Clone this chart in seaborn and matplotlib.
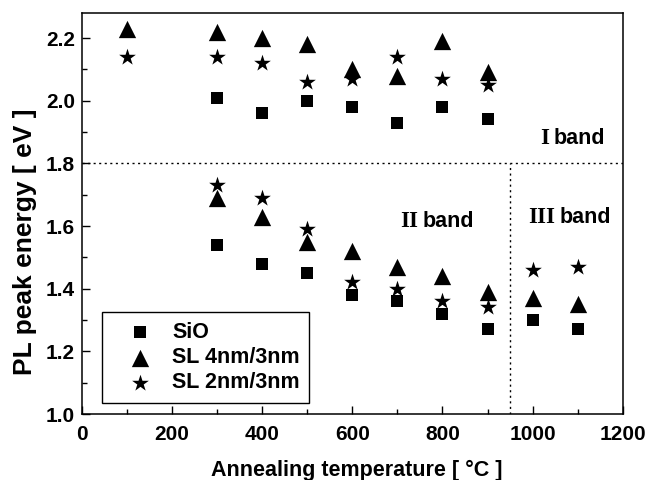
import matplotlib
matplotlib.use("Agg")
import matplotlib.pyplot as plt
import seaborn as sns
import pandas as pd
from matplotlib.ticker import MultipleLocator, FormatStrFormatter

# ---- data ----
sio_temp = [300, 400, 500, 600, 700, 800, 900,
            300, 400, 500, 600, 700, 800, 900, 1000, 1100]
sio_energy = [2.01, 1.96, 2.00, 1.98, 1.93, 1.98, 1.94,
              1.54, 1.48, 1.45, 1.38, 1.36, 1.32, 1.27, 1.30, 1.27]

sl43_temp = [100, 300, 400, 500, 600, 700, 800, 900,
             300, 400, 500, 600, 700, 800, 900, 1000, 1100]
sl43_energy = [2.23, 2.22, 2.20, 2.18, 2.10, 2.08, 2.19, 2.09,
               1.69, 1.63, 1.55, 1.52, 1.47, 1.44, 1.39, 1.37, 1.35]

sl23_temp = [100, 300, 400, 500, 600, 700, 800, 900,
             300, 400, 500, 600, 700, 800, 900, 1000, 1100]
sl23_energy = [2.14, 2.14, 2.12, 2.06, 2.07, 2.14, 2.07, 2.05,
               1.73, 1.69, 1.59, 1.42, 1.40, 1.36, 1.34, 1.46, 1.47]

series_names = ["SiO", "SL 4nm/3nm", "SL 2nm/3nm"]
band_numerals = ["I", "II", "III"]
band_x = [1036, 745, 1050]
band_y = [1.861, 1.598, 1.610]
band_boundary_y = 1.8
band_boundary_x = 950

df = pd.concat([
    pd.DataFrame({"temp": sio_temp, "energy": sio_energy, "sample": series_names[0]}),
    pd.DataFrame({"temp": sl43_temp, "energy": sl43_energy, "sample": series_names[1]}),
    pd.DataFrame({"temp": sl23_temp, "energy": sl23_energy, "sample": series_names[2]}),
], ignore_index=True)

sns.set_style("ticks")
plt.rcParams["font.family"] = ["Liberation Sans", "DejaVu Sans"]
plt.rcParams["font.weight"] = "bold"
for key in ["text.color", "axes.labelcolor", "xtick.color", "ytick.color",
            "axes.edgecolor"]:
    plt.rcParams[key] = "black"

fig = plt.figure(figsize=(6.48, 4.8), dpi=100)
ax = fig.add_axes([0.1265, 0.1375, 0.8345, 0.8355])

markers = {"SiO": "s", "SL 4nm/3nm": "^", "SL 2nm/3nm": "*"}
sizes = {"SiO": 85, "SL 4nm/3nm": 155, "SL 2nm/3nm": 160}
for name in series_names:
    sns.scatterplot(data=df[df["sample"] == name], x="temp", y="energy",
                    marker=markers[name], s=sizes[name], color="black",
                    edgecolor="black", linewidth=0, label=name, ax=ax, zorder=3)

ax.set_xlim(0, 1200)
ax.set_ylim(1.0, 2.28)
ax.xaxis.set_major_locator(MultipleLocator(200))
ax.xaxis.set_minor_locator(MultipleLocator(100))
ax.yaxis.set_major_locator(MultipleLocator(0.2))
ax.yaxis.set_minor_locator(MultipleLocator(0.1))
ax.yaxis.set_major_formatter(FormatStrFormatter("%.1f"))
ax.tick_params(which="major", direction="in", length=6, width=1, labelsize=15,
               color="black", labelcolor="black")
ax.tick_params(axis="x", which="major", pad=8)
ax.tick_params(axis="y", which="major", pad=5)
ax.tick_params(which="minor", direction="in", length=3.5, width=1, color="black")
for lab in ax.get_xticklabels() + ax.get_yticklabels():
    lab.set_fontweight("bold")
for sp in ax.spines.values():
    sp.set_visible(True)
    sp.set_linewidth(1.1)
    sp.set_color("black")

ax.set_xlabel("Annealing temperature [ \u00b0C ]", fontsize=15.5, fontweight="bold",
              color="black")
ax.set_ylabel("PL peak energy [ eV ]", fontsize=19, fontweight="bold", color="black")
ax.xaxis.set_label_coords(0.508, -0.115)
ax.yaxis.set_label_coords(-0.105, 0.43)
ax.yaxis.label.set_va("center")

ax.axhline(band_boundary_y, color="black", linestyle=(0, (1.5, 2.5)), linewidth=1)
ax.plot([band_boundary_x, band_boundary_x], [1.0, band_boundary_y], color="black",
        linestyle=(0, (1.5, 2.5)), linewidth=1)

for num, bx, by in zip(band_numerals, band_x, band_y):
    ax.text(bx, by, num, ha="right", va="baseline", fontsize=16.5, color="black",
            family=["Liberation Serif", "DejaVu Serif"], fontweight="bold")
    ax.annotate("band", xy=(bx, by), xytext=(3.5, 0), textcoords="offset points",
                ha="left", va="baseline", fontsize=15.5, fontweight="bold",
                color="black")

leg = ax.legend(loc="lower left", bbox_to_anchor=(0.037, 0.027), frameon=True,
                fancybox=False, edgecolor="black", framealpha=1,
                prop={"size": 15.5, "weight": "bold"}, borderpad=0.45,
                borderaxespad=0, handlelength=2.6, handletextpad=0.2,
                labelspacing=0.2)
leg.get_frame().set_linewidth(1)
for t in leg.get_texts():
    t.set_color("black")

fig.savefig("out.png", dpi=100)
